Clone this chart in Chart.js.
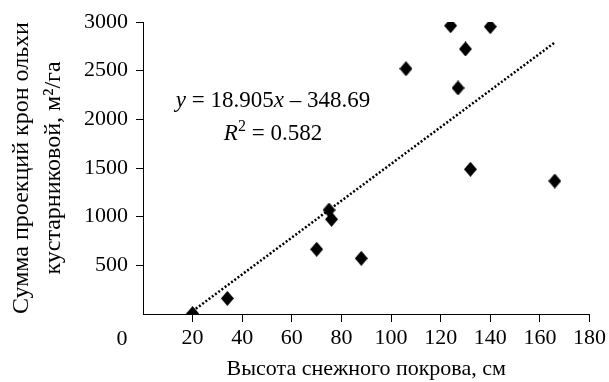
<!DOCTYPE html>
<html>
<head>
<meta charset="utf-8">
<script src="https://cdn.jsdelivr.net/npm/chart.js@4/dist/chart.umd.min.js"></script>
<style>
  html, body { margin: 0; padding: 0; background: #fff; }
  #wrap { width: 609px; height: 382px; position: relative; }
</style>
</head>
<body>
<div id="wrap"><canvas id="chart"></canvas></div>
<script>
// snow depth (cm) vs. sum of alder crown projections (m2/ha)
const snowDepth = [20, 34, 70, 75, 76, 88, 106, 124, 127, 130, 132, 140, 166];
const crownSum  = [5, 160, 665, 1068, 973, 572, 2520, 2962, 2322, 2723, 1487, 2952, 1366];

// linear trend as printed on the chart
const trendSlope = 18.905;
const trendIntercept = -348.69;
const trendRange = [20, 166];
const rSquared = 0.582;

const xTicks = [0, 20, 40, 60, 80, 100, 120, 140, 160, 180];
const yTicks = [0, 500, 1000, 1500, 2000, 2500, 3000];

const serif = 'Liberation Serif';

const points = snowDepth.map((x, i) => ({ x: x, y: crownSum[i] }));
const trend = trendRange.map(x => ({ x: x, y: trendSlope * x + trendIntercept }));

// Excel-like diamond marker, a bit taller than wide
function makeDiamond(w, h) {
    const c = document.createElement('canvas');
    c.width = w;
    c.height = h;
    const g = c.getContext('2d');
    g.fillStyle = '#000';
    g.beginPath();
    g.moveTo(w / 2, 0);
    g.lineTo(w, h / 2);
    g.lineTo(w / 2, h);
    g.lineTo(0, h / 2);
    g.closePath();
    g.fill();
    return c;
}

// draws the equation (mixed italic) and the lone "0" label under the y axis
const annotations = {
    id: 'annotations',
    afterDraw(chart) {
        const ctx = chart.ctx;
        const xs = chart.scales.x;
        ctx.save();
        ctx.fillStyle = '#000';
        ctx.textBaseline = 'alphabetic';

        function drawParts(parts, cx, baseline) {
            let total = 0;
            parts.forEach(p => {
                ctx.font = p.font;
                p.w = ctx.measureText(p.text).width;
                total += p.w;
            });
            let x = cx - total / 2;
            parts.forEach(p => {
                ctx.font = p.font;
                ctx.fillText(p.text, x, baseline - (p.rise || 0));
                x += p.w;
            });
        }

        const normal = '23px "' + serif + '"';
        const italic = 'italic 23px "' + serif + '"';
        const small = '16px "' + serif + '"';
        const sign = trendIntercept < 0 ? ' \u2013 ' : ' + ';

        drawParts([
            { text: 'y', font: italic },
            { text: ' = ' + trendSlope, font: normal },
            { text: 'x', font: italic },
            { text: sign + Math.abs(trendIntercept), font: normal }
        ], 273, 107);

        drawParts([
            { text: 'R', font: italic },
            { text: '2', font: small, rise: 9 },
            { text: ' = ' + rSquared, font: normal }
        ], 273, 140);

        // the "0" of the x axis sits left of the axis line
        ctx.font = '22px "' + serif + '"';
        ctx.textAlign = 'center';
        ctx.textBaseline = 'middle';
        ctx.fillText('0', xs.getPixelForValue(0) - 21, 339);
        ctx.restore();
    }
};

new Chart(document.getElementById('chart'), {
    type: 'scatter',
    data: {
        datasets: [
            {
                data: trend,
                type: 'line',
                borderColor: '#000',
                borderWidth: 2.5,
                borderDash: [2, 2],
                pointRadius: 0,
                fill: false
            },
            {
                data: points,
                pointStyle: makeDiamond(13, 15),
                pointRadius: 7,
                backgroundColor: '#000',
                borderColor: '#000',
                borderWidth: 0
            }
        ]
    },
    options: {
        responsive: true,
        maintainAspectRatio: false,
        animation: false,
        events: [],
        layout: { padding: { top: 22, right: 17, left: 0, bottom: 0 } },
        plugins: {
            legend: { display: false },
            tooltip: { enabled: false }
        },
        scales: {
            x: {
                type: 'linear',
                min: xTicks[0],
                max: xTicks[xTicks.length - 1],
                afterBuildTicks: scale => { scale.ticks = xTicks.map(v => ({ value: v })); },
                afterFit: scale => { scale.height = 68; },
                ticks: {
                    padding: 3,
                    maxRotation: 0,
                    color: '#000',
                    font: { family: serif, size: 22 },
                    callback: v => v === 0 ? '' : v
                },
                grid: {
                    drawOnChartArea: false,
                    tickLength: 8,
                    color: c => c.tick && c.tick.value === 0 ? 'rgba(0,0,0,0)' : '#000'
                },
                border: { color: '#000', width: 1 },
                title: {
                    display: true,
                    text: 'Высота снежного покрова, см',
                    color: '#000',
                    font: { family: serif, size: 22 },
                    padding: { top: 0, bottom: 0 }
                }
            },
            y: {
                min: yTicks[0],
                max: yTicks[yTicks.length - 1],
                afterBuildTicks: scale => { scale.ticks = yTicks.map(v => ({ value: v })); },
                afterFit: scale => { scale.width = 143; },
                ticks: {
                    padding: 8,
                    color: '#000',
                    font: { family: serif, size: 22 },
                    callback: v => v === 0 ? '' : v
                },
                grid: {
                    drawOnChartArea: false,
                    tickLength: 7,
                    color: c => c.tick && c.tick.value === 0 ? 'rgba(0,0,0,0)' : '#000'
                },
                border: { color: '#000', width: 1 },
                title: {
                    display: true,
                    text: ['Сумма проекций крон ольхи', 'кустарниковой, м²/га'],
                    color: '#000',
                    font: { family: serif, size: 24, lineHeight: 1.33 },
                    padding: { top: 6, bottom: 0 }
                }
            }
        }
    },
    plugins: [annotations]
});
</script>
</body>
</html>
